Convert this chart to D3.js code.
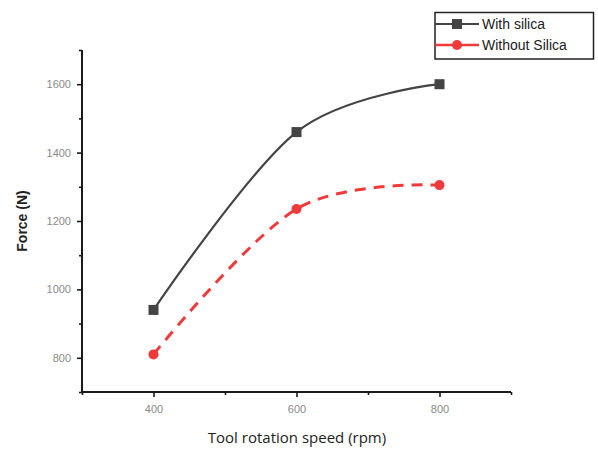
<!DOCTYPE html>
<html><head><meta charset="utf-8">
<script src="https://cdn.jsdelivr.net/npm/d3@7"></script>
<style>body{margin:0;background:#fff}svg{display:block}</style>
</head><body>
<svg id="c" width="598" height="451"></svg>
<script>
const speeds = [400, 600, 800];
const withSilica = [940, 1460, 1600];
const withoutSilica = [810, 1235, 1305];
const seriesNames = ["With silica", "Without Silica"];
const xTicks = [400, 600, 800];
const xMinor = [300, 500, 700, 900];
const yTicks = [800, 1000, 1200, 1400, 1600];
const yMinor = [700, 900, 1100, 1300, 1500, 1700];

const svg = d3.select("#c");
const x = d3.scaleLinear().domain([300, 900]).range([82, 511]);
const y = d3.scaleLinear().domain([700, 1700]).range([392, 50]);
const font = "'Liberation Sans', Arial, sans-serif";
const axisColor = "#1a1a1a";

// axes
const gx = svg.append("g").attr("transform", "translate(0,392)")
  .call(d3.axisBottom(x).tickValues(xTicks).tickSize(5).tickPadding(8).tickFormat(d3.format("d")));
svg.append("g").attr("transform", "translate(0,392)")
  .call(d3.axisBottom(x).tickValues(xMinor).tickSize(3).tickFormat(""))
  .call(g => g.select(".domain").remove());
const gy = svg.append("g").attr("transform", "translate(82,0)")
  .call(d3.axisLeft(y).tickValues(yTicks).tickSize(5).tickPadding(6).tickFormat(d3.format("d")));
svg.append("g").attr("transform", "translate(82,0)")
  .call(d3.axisLeft(y).tickValues(yMinor).tickSize(3).tickFormat(""))
  .call(g => g.select(".domain").remove());
svg.selectAll(".domain").attr("stroke", axisColor).attr("stroke-width", 2);
svg.selectAll(".tick line").attr("stroke", axisColor).attr("stroke-width", 1.6);
svg.selectAll(".tick text").attr("fill", "#8a8a8a").style("font-family", font).style("font-size", "11px");
gx.select(".domain").attr("d", `M${x(300)},0H${x(900)}`);
gy.select(".domain").attr("d", `M0,${y(700)}V${y(1700)}`);

// titles
svg.append("text").attr("x", 297).attr("y", 443).attr("text-anchor", "middle")
  .style("font-family", "'Open Sans', 'DejaVu Sans', sans-serif").style("font-size", "15px").attr("fill", "#222")
  .text("Tool rotation speed (rpm)");
svg.append("text").attr("transform", "translate(27,221) rotate(-90)").attr("text-anchor", "middle")
  .style("font-family", font).style("font-size", "14px").style("font-weight", "bold").attr("fill", "#222")
  .text("Force (N)");

// lines
const line = d3.line().x((d, i) => x(speeds[i])).y(d => y(d)).curve(d3.curveCardinal.tension(0));
const gray = "#444", red = "#ee3a3a";
svg.append("path").attr("d", line(withSilica)).attr("fill", "none").attr("stroke", gray).attr("stroke-width", 2.2);
svg.append("path").attr("d", line(withoutSilica)).attr("fill", "none").attr("stroke", red).attr("stroke-width", 3)
  .attr("stroke-dasharray", "11,8");
svg.selectAll(".sq").data(withSilica).join("rect")
  .attr("x", (d, i) => x(speeds[i]) - 5).attr("y", d => y(d) - 5).attr("width", 10).attr("height", 10).attr("fill", gray);
svg.selectAll(".ci").data(withoutSilica).join("circle")
  .attr("cx", (d, i) => x(speeds[i])).attr("cy", d => y(d)).attr("r", 5).attr("fill", red);

// legend
const lg = svg.append("g");
lg.append("rect").attr("x", 435).attr("y", 12.5).attr("width", 158.5).attr("height", 46.5)
  .attr("fill", "#fff").attr("stroke", "#222").attr("stroke-width", 1.5);
const rows = [{c: gray, t: seriesNames[0], y: 24, m: "sq"},
              {c: red, t: seriesNames[1], y: 45, m: "ci"}];
rows.forEach(r => {
  lg.append("line").attr("x1", 435).attr("x2", 479).attr("y1", r.y).attr("y2", r.y)
    .attr("stroke", r.c).attr("stroke-width", r.m === "sq" ? 2.2 : 2.5);
  if (r.m === "sq") lg.append("rect").attr("x", 452).attr("y", r.y - 5).attr("width", 10).attr("height", 10).attr("fill", r.c);
  else lg.append("circle").attr("cx", 457).attr("cy", r.y).attr("r", 5).attr("fill", r.c);
  lg.append("text").attr("x", 482).attr("y", r.y + 5).style("font-family", font).style("font-size", "14px")
    .attr("fill", "#222").text(r.t);
});
</script>
</body></html>
